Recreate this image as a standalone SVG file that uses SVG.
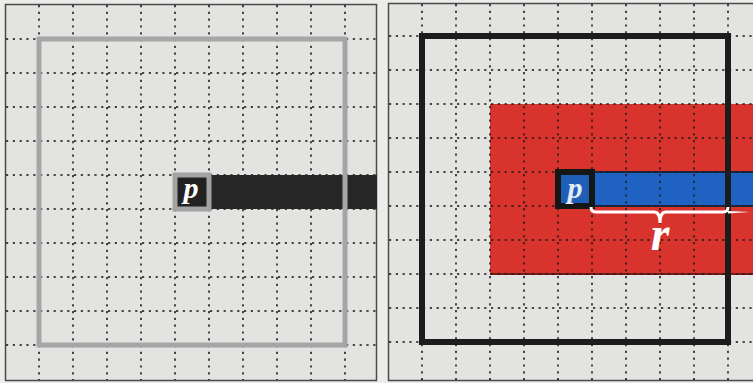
<svg xmlns="http://www.w3.org/2000/svg" width="753" height="383" viewBox="0 0 753 383">
  <style>
    .panel { fill: #e3e3e1; stroke: #4a4a4a; stroke-width: 1.5; }
    .grid line { stroke: #1e1e1e; stroke-width: 2; stroke-dasharray: 2.2 4.6; opacity: 0.8; }
    .lbl { font-family: "Liberation Serif", "DejaVu Serif", serif; font-style: italic; font-weight: bold; text-anchor: middle; }
  </style>
  <rect x="0" y="0" width="753" height="383" fill="#ececea"/>

  <!-- Left panel -->
  <g id="left-panel">
    <rect class="panel" x="5.5" y="4.5" width="371" height="376"/>
    <g class="grid">
      <line x1="39" y1="5" x2="39" y2="380"/>
      <line x1="73" y1="5" x2="73" y2="380"/>
      <line x1="107" y1="5" x2="107" y2="380"/>
      <line x1="141" y1="5" x2="141" y2="380"/>
      <line x1="175" y1="5" x2="175" y2="380"/>
      <line x1="209" y1="5" x2="209" y2="380"/>
      <line x1="243" y1="5" x2="243" y2="380"/>
      <line x1="277" y1="5" x2="277" y2="380"/>
      <line x1="311" y1="5" x2="311" y2="380"/>
      <line x1="345" y1="5" x2="345" y2="380"/>
      <line x1="6" y1="39" x2="376" y2="39"/>
      <line x1="6" y1="73" x2="376" y2="73"/>
      <line x1="6" y1="107" x2="376" y2="107"/>
      <line x1="6" y1="141" x2="376" y2="141"/>
      <line x1="6" y1="175" x2="376" y2="175"/>
      <line x1="6" y1="209" x2="376" y2="209"/>
      <line x1="6" y1="243" x2="376" y2="243"/>
      <line x1="6" y1="277" x2="376" y2="277"/>
      <line x1="6" y1="311" x2="376" y2="311"/>
      <line x1="6" y1="345" x2="376" y2="345"/>
    </g>
  </g>

  <g id="left-bar">
    <rect x="211" y="175" width="166" height="34" fill="#262626"/>
  </g>
  <g id="left-window">
    <rect x="39" y="39" width="306" height="306" fill="none" stroke="#a6a6a6" stroke-width="5"/>
  </g>
  <g id="left-p">
    <rect x="175" y="175" width="34" height="34" fill="#222" stroke="#a3a3a3" stroke-width="5"/>
    <text class="lbl" x="191" y="198" font-size="30" fill="#ffffff">p</text>
  </g>

  <!-- Right panel -->
  <g id="right-panel">
    <rect class="panel" x="388.5" y="3.5" width="370" height="377"/>
  </g>
  <g id="right-red">
    <rect x="490" y="104" width="270" height="170" fill="#d9332d"/>
    <line x1="490" y1="274" x2="753" y2="274" stroke="#7a1a16" stroke-width="2"/>
  </g>
  <g id="right-bar">
    <rect x="592" y="172" width="170" height="34" fill="#1f62c2"/>
    <line x1="592" y1="172" x2="753" y2="172" stroke="#1b2740" stroke-width="2"/>
    <line x1="592" y1="206" x2="753" y2="206" stroke="#1b2740" stroke-width="2"/>
  </g>
  <g class="grid" id="right-grid">
    <line x1="422" y1="4" x2="422" y2="380"/>
    <line x1="456" y1="4" x2="456" y2="380"/>
    <line x1="490" y1="4" x2="490" y2="380"/>
    <line x1="524" y1="4" x2="524" y2="380"/>
    <line x1="558" y1="4" x2="558" y2="380"/>
    <line x1="592" y1="4" x2="592" y2="380"/>
    <line x1="626" y1="4" x2="626" y2="380"/>
    <line x1="660" y1="4" x2="660" y2="380"/>
    <line x1="694" y1="4" x2="694" y2="380"/>
    <line x1="728" y1="4" x2="728" y2="380"/>
    <line x1="389" y1="36" x2="753" y2="36"/>
    <line x1="389" y1="70" x2="753" y2="70"/>
    <line x1="389" y1="104" x2="753" y2="104"/>
    <line x1="389" y1="138" x2="753" y2="138"/>
    <line x1="389" y1="172" x2="753" y2="172"/>
    <line x1="389" y1="206" x2="753" y2="206"/>
    <line x1="389" y1="240" x2="753" y2="240"/>
    <line x1="389" y1="274" x2="753" y2="274"/>
    <line x1="389" y1="308" x2="753" y2="308"/>
    <line x1="389" y1="342" x2="753" y2="342"/>
  </g>
  <g id="right-window">
    <rect x="422" y="36" width="306" height="306" fill="none" stroke="#1c1c1c" stroke-width="6"/>
  </g>
  <g id="right-p">
    <rect x="558" y="172" width="34" height="34" fill="#1f5fb8" stroke="#161616" stroke-width="6"/>
    <text class="lbl" x="575" y="198" font-size="30" fill="#e2ebf7">p</text>
  </g>

  <g id="connectors">
    <path d="M591,207 Q591,212 596,212 L654,212 Q660,212 660,223 Q660,212 666,212 L723,212 Q728,212 728,207" fill="none" stroke="#ffffff" stroke-width="3"/>
    <path d="M728,211 L750,212 L728,213.5 Z" fill="#ffffff"/>
  </g>
  <g id="r-label">
    <text class="lbl" x="660" y="250" font-size="48" font-weight="normal" fill="#ffffff">r</text>
  </g>
</svg>
